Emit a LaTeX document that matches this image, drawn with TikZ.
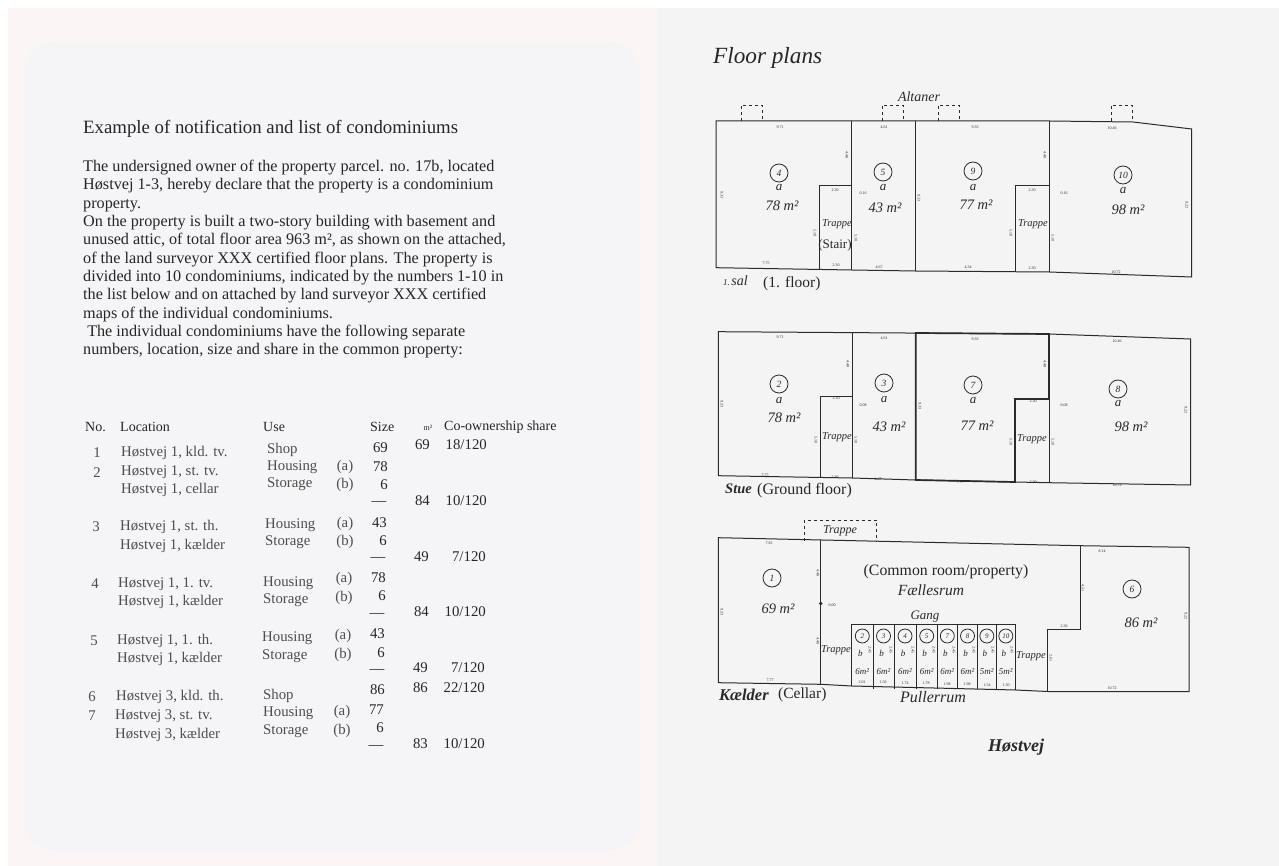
\documentclass[tikz,border=0pt]{standalone}
\usepackage{fontspec}
\setmainfont{Liberation Serif}
\usetikzlibrary{positioning}

\definecolor{pagepink}{HTML}{FCF5F5}
\definecolor{pagemid}{HTML}{F5F4F6}
\definecolor{pagegrey}{HTML}{F4F4F4}
\definecolor{inkdark}{HTML}{262626}
\definecolor{inkgrey}{HTML}{4E4E4E}
\definecolor{plan}{HTML}{2A2A2A}

\tikzset{
  wall/.style={draw=plan, line width=1pt},
  heavywall/.style={draw=plan, line width=1.7pt},
  balcony/.style={draw=plan, dashed, line width=0.8pt},
  unitno/.style={circle, draw=plan, line width=0.8pt, inner sep=0pt, minimum size=18pt, text=plan, font=\fontsize{9.5}{9.5}\selectfont\itshape},
  cellno/.style={unitno, minimum size=14pt, font=\fontsize{7}{7}\selectfont\itshape},
  hand/.style={font=\fontsize{13}{13}\selectfont\itshape, text=plan, inner sep=0pt},
  area/.style={font=\fontsize{14.5}{14.5}\selectfont\itshape, text=plan, inner sep=0pt},
  trappe/.style={font=\fontsize{10.5}{10.5}\selectfont\itshape, text=plan, inner sep=0pt},
  handbold/.style={font=\fontsize{16.5}{16.5}\selectfont\bfseries\itshape, text=plan, inner sep=0pt},
  dimtxt/.style={font=\fontsize{4}{4}\selectfont, text=plan, inner sep=0pt},
  typed/.style={font=\fontsize{15.5}{15.5}\selectfont, text=inkdark, inner sep=0pt},
  tabhead/.style={font=\fontsize{14}{14}\selectfont, text=inkdark, inner sep=0pt},
  tabtxt/.style={font=\fontsize{14.8}{14.8}\selectfont, text=inkgrey, inner sep=0pt},
}

\begin{document}
\begin{tikzpicture}[x=1pt,y=-1pt]
\useasboundingbox (0,0) rectangle (1279,866);
% pages
\fill[white] (0,0) rectangle (1279,866);
\fill[pagepink] (8,8) rectangle (657,866);
\fill[pagemid, rounded corners=30pt] (24,42) rectangle (640,850);
\fill[pagegrey] (657,8) rectangle (1279,866);

% left page: declaration
\node[anchor=west, font=\fontsize{18.8}{18.8}\selectfont, text=inkdark, inner sep=0pt] (title) at (83,129)
  {Example of notification and list of condominiums};
\node[anchor=north west, align=left, font=\fontsize{16.2}{18.3}\selectfont, text=inkdark, inner sep=0pt] (intro) at (83,160)
  {The undersigned owner of the property parcel. no. 17b, located\\
   Høstvej 1-3, hereby declare that the property is a condominium\\
   property.\\
   On the property is built a two-story building with basement and\\
   unused attic, of total floor area 963 m², as shown on the attached,\\
   of the land surveyor XXX certified floor plans. The property is\\
   divided into 10 condominiums, indicated by the numbers 1-10 in\\
   the list below and on attached by land surveyor XXX certified\\
   maps of the individual condominiums.\\
   \ The individual condominiums have the following separate\\
   numbers, location, size and share in the common property:};

% table header
\node[tabhead, anchor=west] (hno) at (85,427) {No.};
\node[tabhead, anchor=west] (hloc) at (120,427) {Location};
\node[tabhead, anchor=west] (huse) at (263,427) {Use};
\node[tabhead, anchor=west] (hsize) at (370,427) {Size};
\node[tabhead, anchor=center, font=\fontsize{8}{8}\selectfont] (hm) at (428,428) {m²};
\node[tabhead, anchor=west] (hshare) at (444,427) {Co-ownership share};

% table body
\foreach \xx/\yy/\n [count=\i] in {97/453/1, 97/473/2, 96/527/3, 95/584/4, 94/641/5, 92/697/6, 92/716/7}
  \node[tabtxt] (no\i) at (\xx,\yy) {\n};
\foreach \xx/\yy/\txt [count=\i] in {121/453/{Høstvej 1, kld. tv.}, 121/472/{Høstvej 1, st. tv.},
    121/490/{Høstvej 1, cellar}, 120/527/{Høstvej 1, st. th.}, 120/546/{Høstvej 1, kælder},
    118/584/{Høstvej 1, 1. tv.}, 118/602/{Høstvej 1, kælder}, 117/641/{Høstvej 1, 1. th.},
    117/659/{Høstvej 1, kælder}, 116/697/{Høstvej 3, kld. th.}, 115/716/{Høstvej 3, st. tv.},
    115/735/{Høstvej 3, kælder}}
  \node[tabtxt, anchor=west] (loc\i) at (\xx,\yy) {\txt};
\foreach \xx/\yy/\txt [count=\i] in {267/450/Shop, 267/467/Housing, 267/484/Storage,
    265/525/Housing, 265/542/Storage, 263/583/Housing, 263/600/Storage, 262/638/Housing,
    262/656/Storage, 263/696/Shop, 263/713/Housing, 263/731/Storage}
  \node[tabtxt, anchor=west] (use\i) at (\xx,\yy) {\txt};
\foreach \xx/\yy/\txt [count=\i] in {345/467/a, 345/485/b, 345/524/a, 345/542/b, 344/579/a,
    344/598/b, 343/636/a, 343/655/b, 342/712/a, 342/731/b}
  \node[tabtxt] (ab\i) at (\xx,\yy) {(\txt)};
\foreach \xx/\yy/\n [count=\i] in {388/448/69, 388/467/78, 388/485/6, 387/523/43, 387/541/6,
    386/578/78, 386/596/6, 385/634/43, 385/653/6, 385/690/86, 384/710/77, 384/728/6}
  \node[tabtxt, text=inkdark, anchor=east] (size\i) at (\xx,\yy) {\n};
\foreach \xx/\yy [count=\i] in {379/504, 378/560, 377/616, 377/672, 376/748}
  \node[tabtxt, text=inkdark] (dash\i) at (\xx,\yy) {—};
\foreach \xx/\yy/\n/\s [count=\i] in {430/445/69/18, 430/501/84/10, 429/557/49/7, 429/612/84/10,
    428/668/49/7, 428/688/86/22, 428/744/83/10}
  {\node[tabtxt, text=inkdark, anchor=east] (tot\i) at (\xx,\yy) {\n};
   \node[tabtxt, text=inkdark, anchor=east] (share\i) at (\xx+57,\yy) {\s/120};}

% right page: floor plans
\node[anchor=west, font=\fontsize{23.2}{23.2}\selectfont\itshape, text=inkdark, inner sep=0pt] (plans) at (713,58) {Floor plans};

% 1. sal
\draw[wall] (716,121) -- (1049.3,121) -- (1133,122) -- (1191.7,129) -- (1191.7,277)
  -- (1049.3,272) -- (915,271) -- (851.7,270) -- (716,267.7) -- cycle;
\draw[wall] (851.7,121) -- (851.7,270) (915,121) -- (915,271) (1049.3,121) -- (1049.3,272);
\draw[wall] (819.3,269.5) -- (819.3,186) -- (851.7,186);
\draw[wall] (1015.7,271.8) -- (1015.7,186) -- (1049.3,186);
\foreach \xa/\xb in {741/762, 882/903, 938/959, 1111/1132}
  \draw[balcony] (\xa,121) -- (\xa,105) -- (\xb,105) -- (\xb,121.5);
\node[hand, font=\fontsize{14}{14}\selectfont\itshape] (altaner) at (919,97) {Altaner};
\node[unitno] (u4) at (779,173) {4};
\node[hand] (u4a) at (779,188) {a};
\node[area] (u4m) at (782,206) {78 m²};
\node[unitno] (u5) at (883,172) {5};
\node[hand] (u5a) at (883,188) {a};
\node[area] (u5m) at (885,208) {43 m²};
\node[unitno] (u9) at (973,171) {9};
\node[hand] (u9a) at (973,188) {a};
\node[area] (u9m) at (976,205) {77 m²};
\node[unitno] (u10) at (1123,175) {10};
\node[hand] (u10a) at (1123,191) {a};
\node[area] (u10m) at (1128,210) {98 m²};
\node[trappe] (tr1a) at (837,224) {Trappe};
\node[trappe] (tr1b) at (1033,224) {Trappe};
\node[typed, font=\fontsize{13}{13}\selectfont] (stair) at (835,245) {(Stair)};
\node[hand, anchor=west, font=\fontsize{14}{14}\selectfont\itshape] (sal) at (723,281) {\fontsize{9}{9}\selectfont 1.\,\fontsize{14}{14}\selectfont sal};
\node[typed, anchor=west] (salen) at (763,284) {(1. floor)};
% dimensions 1. sal
\foreach \xx/\yy/\d in {780/127/9.71, 884/127/4.61, 975/127/9.33, 1112/128/10.46,
    766/263/7.75, 836/265/2.30, 879/267/4.67, 968/267/4.34, 1032/268/2.30, 1116/272/10.72,
    835/190/2.30, 1032/190/2.30, 863/193/0.16, 1064/193/0.16}
  \node[dimtxt] at (\xx,\yy) {\d};
\foreach \xx/\yy/\d in {722/195/9.33, 1187/205/9.22, 919/198/9.33, 847/155/4.48, 1045/155/4.48,
    815/233/5.10, 856/238/5.10, 1011/233/5.10, 1053/238/5.10}
  \node[dimtxt, rotate=-90] at (\xx,\yy) {\d};

% Stue
\draw[wall] (718.3,331.7) -- (1049,334) -- (1190.7,339) -- (1190.7,485) -- (1049,482.7)
  -- (915.7,480) -- (852.3,478) -- (718.3,475.7) -- cycle;
\draw[wall] (852.3,332.5) -- (852.3,478) (915.7,333) -- (915.7,480);
\draw[wall] (820,477.5) -- (820,396) -- (852.3,396);
\draw[wall] (1049,399) -- (1049,482.7);
\draw[heavywall] (915.7,333) -- (1049,334) -- (1049,399) -- (1015,399) -- (1015,482) -- (915.7,480) -- cycle;
\node[unitno] (u2) at (779,384) {2};
\node[hand] (u2a) at (779,401) {a};
\node[area] (u2m) at (784,418) {78 m²};
\node[unitno] (u3) at (884,383) {3};
\node[hand] (u3a) at (884,400) {a};
\node[area] (u3m) at (889,427) {43 m²};
\node[unitno] (u7) at (973,385) {7};
\node[hand] (u7a) at (973,401) {a};
\node[area] (u7m) at (977,426) {77 m²};
\node[unitno] (u8) at (1118,389) {8};
\node[hand] (u8a) at (1118,404) {a};
\node[area] (u8m) at (1131,427) {98 m²};
\node[trappe] (tr2a) at (837,437) {Trappe};
\node[trappe] (tr2b) at (1032,439) {Trappe};
\node[handbold, anchor=west, font=\fontsize{14.5}{14.5}\selectfont\bfseries\itshape] (stue) at (725,489) {Stue};
\node[typed, anchor=west, font=\fontsize{16}{16}\selectfont] (stueen) at (757,491) {(Ground floor)};
% dimensions Stue
\foreach \xx/\yy/\d in {780/337/9.71, 884/338/4.61, 975/339/9.33, 1117/341/10.46,
    765/475/7.75, 835/477/2.30, 878/479/4.67, 960/482/7.77, 1033/482/2.30, 1117/485/10.72,
    836/398/2.30, 1033/401/2.30, 863/405/0.08, 1064/405/0.08}
  \node[dimtxt] at (\xx,\yy) {\d};
\foreach \xx/\yy/\d in {722/404/9.33, 1186/410/9.22, 920/406/9.33, 848/364/4.48, 1045/364/4.48,
    816/440/5.10, 856/440/5.10, 1011/442/5.10, 1053/442/5.10}
  \node[dimtxt, rotate=-90] at (\xx,\yy) {\d};

% Kaelder
\draw[wall] (718.3,537.7) -- (1080,545.7) -- (1189,547.3) -- (1189,691.7) -- (1047.7,691.5)
  -- (1015.7,690) -- (851.7,686) -- (820.7,684.3) -- (718.3,682.7) -- cycle;
\draw[wall] (820.7,540) -- (820.7,684.3);
\draw[wall] (1080,545.7) -- (1080,629.3) -- (1047.7,629.3) -- (1047.7,691.5);
\draw[balcony] (804,540.5) -- (804,520) -- (876.7,520) -- (876.7,542);
\fill[plan] (820.7,603.5) circle (1.8pt);
\draw[wall] (851.7,686) -- (851.7,624.3) -- (1015.7,624.3) -- (1015.7,690);
\foreach \xx in {873,894,916,937.3,957.3,977.7,996}
  \draw[wall] (\xx,624.3) -- (\xx,689);
\foreach \xx/\n/\m [count=\i] in {862.3/2/6, 883.5/3/6, 905/4/6, 926.7/5/6, 947.3/7/6, 967.5/8/6, 986.8/9/5, 1005.8/10/5}
  {\node[cellno] (c\n) at (\xx,636) {\n};
   \node[hand, font=\fontsize{9}{9}\selectfont\itshape] (cb\n) at (\xx-2,653) {b};
   \node[hand, font=\fontsize{9}{9}\selectfont\itshape] (cm\n) at (\xx,672) {\m m²};}
\node[unitno] (u1) at (772,578) {1};
\node[area] (u1m) at (778,609) {69 m²};
\node[unitno] (u6) at (1132,589) {6};
\node[area] (u6m) at (1141,623) {86 m²};
\node[typed, font=\fontsize{15.8}{15.8}\selectfont] (common) at (946,572) {(Common room/property)};
\node[hand, font=\fontsize{15.5}{15.5}\selectfont\itshape] (faelles) at (931,590) {Fællesrum};
\node[hand, font=\fontsize{13}{13}\selectfont\itshape] (gang) at (925,617) {Gang};
\node[trappe] (tr3a) at (836,650) {Trappe};
\node[trappe] (tr3b) at (1031,656) {Trappe};
\node[hand, font=\fontsize{12}{12}\selectfont\itshape] (tr3c) at (840,531) {Trappe};
\node[hand, font=\fontsize{16}{16}\selectfont\itshape] (puller) at (933,697) {Pullerrum};
\node[handbold, anchor=west] (kaelder) at (719,695) {Kælder};
\node[typed, anchor=west] (kaelderen) at (778,695) {(Cellar)};
\node[handbold, font=\fontsize{18}{18}\selectfont\bfseries\itshape] (vej) at (1016,747) {Høstvej};
% dimensions Kaelder
\foreach \xx/\yy/\d in {769/543/7.81, 1102/551/8.14, 770/680/7.77, 1112/688/10.72,
    832/605/0.00, 1064/626/2.36, 862/682/2.01, 883/682/1.56, 905/683/1.74, 926/683/1.78,
    947/684/1.98, 967/684/1.98, 987/685/1.54, 1006/685/1.30}
  \node[dimtxt] at (\xx,\yy) {\d};
\foreach \xx/\yy/\d in {722/612/9.33, 1186/616/9.22, 818/573/4.48, 818/641/4.48, 1083/588/4.51, 1051/658/2.61,
    870/650/2.45, 891/650/2.45, 913/650/2.45, 934/650/2.45, 954/650/2.45, 974/650/2.45, 993/650/2.45, 1012/650/2.45}
  \node[dimtxt, rotate=-90] at (\xx,\yy) {\d};
\end{tikzpicture}
\end{document}
